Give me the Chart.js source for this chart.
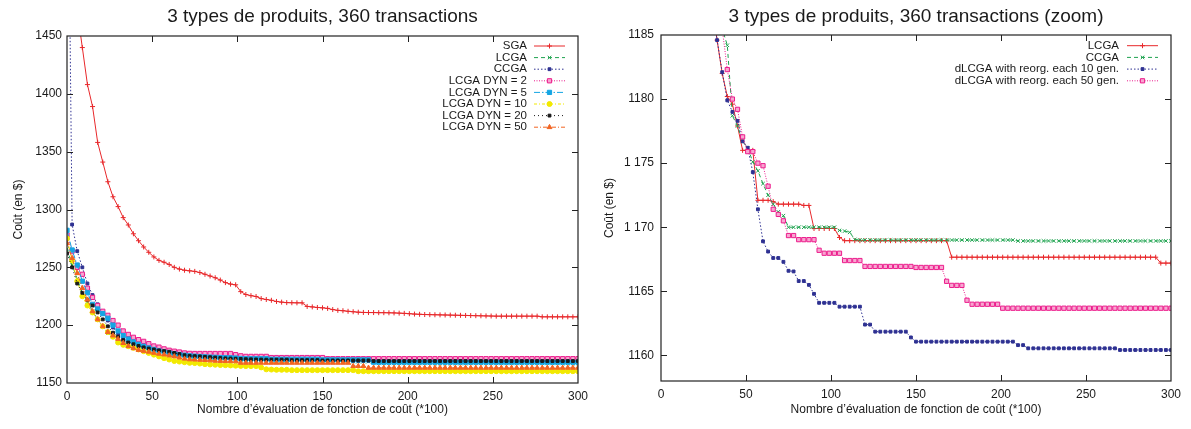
<!DOCTYPE html>
<html>
<head>
<meta charset="utf-8">
<script src="https://cdn.jsdelivr.net/npm/chart.js@4.4.1/dist/chart.umd.min.js"></script>
<style>
  html, body { margin: 0; padding: 0; background: #fff; }
  #wrap { position: relative; width: 1191px; height: 429px; }
  canvas { position: absolute; top: 0; }
  #left { left: 0; }
  #right { left: 595px; }
</style>
</head>
<body>
<div id="wrap">
  <canvas id="left" width="595" height="429"></canvas>
  <canvas id="right" width="596" height="429"></canvas>
</div>
<script>
// x = nombre d'évaluations (*100)
const evals = [
  0,3,6,9,12,15,18,21,24,27,
  30,33,36,39,42,45,48,51,54,57,
  60,63,66,69,72,75,78,81,84,87,
  90,93,96,99,102,105,108,111,114,117,
  120,123,126,129,132,135,138,141,144,147,
  150,153,156,159,162,165,168,171,174,177,
  180,183,186,189,192,195,198,201,204,207,
  210,213,216,219,222,225,228,231,234,237,
  240,243,246,249,252,255,258,261,264,267,
  270,273,276,279,282,285,288,291,294,297,
  300];

const xTicks = [0, 50, 100, 150, 200, 250, 300];
const yTicksLeft = [1150, 1200, 1250, 1300, 1350, 1400, 1450];
const yTicksRight = [1160, 1165, 1170, 1175, 1180, 1185];
const yLabelsRight = ['1160', '1165', '1 170', '1 175', '1180', '1185'];

// ---- left chart ----
const sga = [
  1560,1510,1472,1440,1408,1389,1358,1341,1324,1311,
  1302.5,1293,1286.6,1279,1273,1267.6,1263,1259,1256,1254.4,
  1252.5,1250,1248.5,1247.5,1247,1246.5,1245.5,1244,1242.5,1241,
  1239,1236.8,1235.5,1234.9,1229,1226.5,1225.5,1224.8,1223,1222.2,
  1221.5,1220.5,1219.9,1219.5,1219.4,1219.3,1219.3,1216.2,1215.8,1215.3,
  1215,1214.5,1213.5,1212.8,1212.5,1212,1211.6,1211.2,1211,1210.9,
  1210.9,1210.8,1210.8,1210.7,1210.6,1210.4,1210.2,1209.9,1209.6,1209.4,
  1209.2,1209.1,1209,1208.9,1208.8,1208.7,1208.6,1208.5,1208.4,1208.3,
  1208.2,1208.1,1208,1207.9,1207.8,1207.8,1207.8,1207.8,1207.8,1207.8,
  1207.8,1207.8,1207.8,1207.2,1207.2,1207.2,1207.2,1207.2,1207.2,1207.2,
  1207.2];
const lcga = [
  1266,1252,1240,1228,1220,1212,1205,1199,1193,1190,
  1188,1185.5,1183.5,1181,1179.5,1177.5,1176,1175,1174.5,1174,
  1173.5,1173,1172.5,1172,1171.8,1171.5,1171.3,1171.1,1170.9,1170.7,
  1170.5,1170.4,1170.3,1170.2,1169.8,1169.8,1169.8,1169.8,1169.8,1169.8,
  1169,1169,1169,1169,1169,1169,1169,1169,1169,1169,
  1169,1168.5,1168.5,1168.5,1168.5,1168.5,1168.5,1168.5,1168.5,1168.5,
  1168.5,1167,1167,1167,1167,1167,1167,1167,1167,1167,
  1167,1167,1167,1167,1167,1167,1167,1167,1167,1167,
  1167,1167,1167,1167,1167,1167,1167,1167,1167,1167,
  1167,1167,1167,1167,1167,1167,1167,1167,1167,1167,
  1167];
const ccga = [
  1700,1287,1264,1250,1236,1226,1218,1210,1204,1198,
  1193,1189,1186,1184,1182,1180.5,1179,1178,1177,1176.3,
  1175.6,1175,1174.4,1173.8,1173.3,1173,1172.6,1172.3,1172,1171.7,
  1171.4,1171.2,1171,1170.8,1170.6,1170.4,1170.2,1170,1170,1170,
  1169.6,1169.6,1169.6,1169.6,1169.6,1169.6,1169.6,1169.6,1169.6,1169.6,
  1169.2,1169.2,1169.2,1169.2,1169.2,1169.2,1169.2,1169.2,1169.2,1169.2,
  1168.5,1168.5,1168.5,1168.5,1168.5,1168.5,1168.5,1168.5,1168.5,1168.5,
  1168.5,1168.5,1168.5,1168.5,1168.5,1168.5,1168.5,1168.5,1168.5,1168.5,
  1168.5,1168.5,1168.5,1168.5,1168.5,1168.5,1168.5,1168.5,1168.5,1168.5,
  1168.5,1168.5,1168.5,1168.5,1168.5,1168.5,1168.5,1168.5,1168.5,1168.5,
  1168.5];
const dyn2 = [
  1278,1264,1250,1244,1232,1224,1217,1212,1208.5,1204,
  1200,1195,1192,1189.5,1187.5,1186,1184,1182,1181,1179.5,
  1178.3,1177.5,1176.8,1176,1175.6,1175.5,1175.5,1175.5,1175.5,1175.5,
  1175.5,1175.5,1175.5,1174.5,1173.5,1173,1173,1173,1173,1173,
  1172,1172,1172,1172,1172,1172,1172,1172,1172,1172,
  1172,1171,1171,1171,1171,1171,1171,1171,1171,1171,
  1171,1171,1171,1171,1171,1171,1171,1171,1171,1171,
  1171,1171,1171,1171,1171,1171,1171,1171,1171,1171,
  1171,1171,1171,1171,1171,1171,1171,1171,1171,1171,
  1171,1171,1171,1171,1171,1171,1171,1171,1171,1171,
  1171];
const dyn5 = [
  1282,1265,1252,1238,1228,1218,1214,1210,1206,1200,
  1195,1191,1188,1185.5,1183.5,1181.8,1180.3,1179,1177.8,1176.8,
  1176,1175.2,1174.6,1174,1173.5,1173.2,1172.9,1172.6,1172.4,1172.2,
  1172,1171.9,1171.8,1171.6,1171.2,1171,1171,1171,1171,1171,
  1170.5,1170.5,1170.5,1170.5,1170.5,1170.5,1170.5,1170.5,1170.5,1170.5,
  1170,1170,1170,1170,1170,1170,1170,1170,1170,1170,
  1168,1168,1168,1168,1168,1168,1168,1168,1168,1168,
  1168,1168,1168,1168,1168,1168,1168,1168,1168,1168,
  1168,1168,1168,1168,1168,1168,1168,1168,1168,1168,
  1168,1168,1168,1168,1168,1168,1168,1168,1168,1168,
  1168];
const dyn10 = [
  1275,1256,1238,1225,1217,1211,1205,1199,1194,1190,
  1185,1183,1181.8,1180.4,1179,1177.5,1176,1174.5,1173,1171.5,
  1170.3,1169,1168.5,1168,1167.4,1167.2,1166.8,1166.3,1166,1165.8,
  1165.5,1165.4,1165.2,1165,1164.8,1164.6,1164.6,1164.6,1163.5,1161.8,
  1161.6,1161.4,1161.4,1161.4,1161.1,1161.1,1161.1,1161.1,1161.1,1161.1,
  1161.1,1161.1,1161.1,1161.1,1161.1,1161.1,1161.1,1160.2,1160.2,1160.2,
  1160.2,1160.2,1160.2,1160.2,1160.2,1160.2,1160.2,1160.2,1160.2,1160.2,
  1160.2,1160.2,1160.2,1160.2,1160.2,1160.2,1160.2,1160.2,1160.2,1160.2,
  1160.2,1160.2,1160.2,1160.2,1160.2,1160.2,1160.2,1160.2,1160.2,1160.2,
  1160.2,1160.2,1160.2,1160.2,1160.2,1160.2,1160.2,1160.2,1160.2,1160.2,
  1160.2];
const dyn20 = [
  1262,1250,1236,1228,1222,1217,1211,1205,1199,1193.5,
  1190,1187,1185,1183.5,1182,1180.8,1179.8,1179,1178.2,1177.6,
  1177,1176,1175,1174,1173.5,1173.2,1173,1172.6,1172.3,1172,
  1171.6,1171.3,1171.2,1171,1170.8,1170.6,1170.5,1170.4,1170.3,1170.2,
  1170.2,1170.2,1170.2,1170.2,1169.8,1169.8,1169.8,1169.8,1169.8,1169.8,
  1169.5,1169.5,1169.5,1169.5,1169.5,1169.5,1169.5,1169.5,1169.5,1169.5,
  1169,1169,1169,1169,1169,1169,1169,1169,1169,1169,
  1169,1169,1169,1169,1169,1169,1169,1169,1169,1169,
  1169,1169,1169,1169,1169,1169,1169,1169,1169,1169,
  1169,1169,1169,1169,1169,1169,1169,1169,1169,1169,
  1169];
const dyn50 = [
  1271,1258,1245,1232,1222,1212,1205,1199,1194,1191,
  1188,1184.5,1181.8,1180,1178.5,1177.7,1177,1176,1175.2,1174.6,
  1173.8,1173,1172,1171,1170.4,1170.2,1170,1169.8,1169.5,1169.2,
  1169,1168.9,1168.8,1168.7,1167.4,1167.4,1167.4,1167.4,1167.4,1167.4,
  1167.4,1167.4,1167.4,1167.4,1167.4,1167.4,1167.4,1167.4,1167.4,1167.4,
  1167.4,1167.4,1167.4,1167.4,1167.4,1167.4,1164.6,1164.6,1164.6,1163.1,
  1163.1,1163.1,1163.1,1163.1,1163.1,1163.1,1163.1,1163.1,1163.1,1163.1,
  1163.1,1163.1,1163.1,1163.1,1163.1,1163.1,1163.1,1163.1,1163.1,1163.1,
  1163.1,1163.1,1163.1,1163.1,1163.1,1163.1,1163.1,1163.1,1163.1,1163.1,
  1163.1,1163.1,1163.1,1163.1,1163.1,1163.1,1163.1,1163.1,1163.1,1163.1,
  1163.1];

// ---- right chart (zoom) ----
const lcgaZ = [
  1275,1262,1250,1240,1230,1220,1212,1204,1197,1192,
  1187.5,1184.6,1182,1180.2,1179.6,1177.9,1176,1176,1176,1172.1,
  1172.1,1172.1,1172,1171.8,1171.8,1171.8,1171.8,1171.8,1171.7,1171.7,
  1169.9,1169.9,1169.9,1169.9,1169.9,1169.2,1168.95,1168.95,1168.95,1168.95,
  1168.95,1168.95,1168.95,1168.95,1168.95,1168.95,1168.95,1168.95,1168.95,1168.95,
  1168.95,1168.95,1168.95,1168.95,1168.95,1168.95,1168.95,1167.66,1167.66,1167.66,
  1167.66,1167.66,1167.66,1167.66,1167.66,1167.66,1167.66,1167.66,1167.66,1167.66,
  1167.66,1167.66,1167.66,1167.66,1167.66,1167.66,1167.66,1167.66,1167.66,1167.66,
  1167.66,1167.66,1167.66,1167.66,1167.66,1167.66,1167.66,1167.66,1167.66,1167.66,
  1167.66,1167.66,1167.66,1167.66,1167.66,1167.66,1167.66,1167.66,1167.2,1167.2,
  1167.2];
const ccgaZ = [
  1280,1268,1256,1245,1235,1226,1218,1210,1203,1197,
  1192,1189,1185.5,1184.2,1178.7,1177.9,1176.7,1176.2,1175.1,1174.4,
  1173.4,1172.5,1171.8,1171.2,1170.9,1170,1170,1170,1170,1170,
  1170,1170,1170,1170,1170,1169.75,1169.7,1169.6,1169.05,1169,
  1169,1169,1169,1169,1169,1169,1169,1169,1169,1169,
  1169,1169,1169,1169,1169,1169,1169,1169,1169,1169,
  1169,1169,1169,1169,1169,1169,1169,1169,1169,1169,
  1168.93,1168.93,1168.93,1168.93,1168.93,1168.93,1168.93,1168.93,1168.93,1168.93,
  1168.93,1168.93,1168.93,1168.93,1168.93,1168.93,1168.93,1168.93,1168.93,1168.93,
  1168.93,1168.93,1168.93,1168.93,1168.93,1168.93,1168.93,1168.93,1168.93,1168.93,
  1168.93];
const reorg10 = [
  1276,1263,1250,1238,1228,1219,1211,1203,1196,1190,
  1187,1184.6,1182.1,1179.9,1179,1178.3,1176.7,1176.2,1174.3,1171.4,
  1168.9,1168.1,1167.6,1167.6,1167.3,1166.6,1166.55,1165.8,1165.8,1165.5,
  1164.8,1164.1,1164.1,1164.1,1164.1,1163.8,1163.8,1163.8,1163.8,1163.8,
  1162.4,1162.4,1161.85,1161.85,1161.85,1161.85,1161.85,1161.85,1161.85,1161.4,
  1161.07,1161.07,1161.07,1161.07,1161.07,1161.07,1161.07,1161.07,1161.07,1161.07,
  1161.07,1161.07,1161.07,1161.07,1161.07,1161.07,1161.07,1161.07,1161.07,1161.07,
  1160.8,1160.8,1160.55,1160.55,1160.55,1160.55,1160.55,1160.55,1160.55,1160.55,
  1160.55,1160.55,1160.55,1160.55,1160.55,1160.55,1160.55,1160.55,1160.55,1160.55,
  1160.42,1160.42,1160.42,1160.42,1160.42,1160.42,1160.42,1160.42,1160.42,1160.42,
  1160.42];
const reorg50 = [
  1278,1266,1254,1243,1233,1224,1216,1208,1201,1195,
  1191,1188,1185.5,1182.3,1180,1179.2,1177.05,1175.9,1175.9,1175,
  1174.8,1173.2,1171.4,1171,1170.5,1169.35,1169.35,1169.03,1169.03,1169.03,
  1169.03,1168.2,1167.97,1167.97,1167.97,1167.97,1167.4,1167.4,1167.4,1167.4,
  1166.94,1166.94,1166.94,1166.94,1166.94,1166.94,1166.94,1166.94,1166.94,1166.94,
  1166.86,1166.86,1166.86,1166.86,1166.86,1166.86,1165.78,1165.46,1165.46,1165.46,
  1164.3,1163.99,1163.99,1163.99,1163.99,1163.99,1163.99,1163.68,1163.68,1163.68,
  1163.68,1163.68,1163.68,1163.68,1163.68,1163.68,1163.68,1163.68,1163.68,1163.68,
  1163.68,1163.68,1163.68,1163.68,1163.68,1163.68,1163.68,1163.68,1163.68,1163.68,
  1163.68,1163.68,1163.68,1163.68,1163.68,1163.68,1163.68,1163.68,1163.68,1163.68,
  1163.68];

const FONT = "'Liberation Sans', Arial, sans-serif";
const TXT = '#1a1a1a';

function serie(label, values, color, dash, style, radius, fill, i) {
  return {
    label: label,
    data: evals.map((x, k) => ({ x: x, y: values[k] })),
    borderColor: color,
    borderWidth: 1,
    borderDash: dash,
    pointStyle: style,
    pointRadius: radius,
    pointBorderWidth: 1,
    pointBorderColor: color,
    pointBackgroundColor: fill || color,
    order: -i,
    tension: 0
  };
}

// boîte et graduations intérieures façon gnuplot
const frame = {
  id: 'frame',
  afterDatasetsDraw(chart) {
    const { ctx, chartArea: a } = chart;
    const xs = chart.scales.x, ys = chart.scales.y;
    ctx.save();
    ctx.strokeStyle = '#222';
    ctx.lineWidth = 1.2;
    ctx.strokeRect(a.left, a.top, a.right - a.left, a.bottom - a.top);
    ctx.lineWidth = 1;
    ctx.beginPath();
    xs.ticks.forEach(t => {
      const p = Math.round(xs.getPixelForValue(t.value)) + 0.5;
      if (p > a.left + 2 && p < a.right - 2) {
        ctx.moveTo(p, a.bottom); ctx.lineTo(p, a.bottom - 6);
        ctx.moveTo(p, a.top); ctx.lineTo(p, a.top + 6);
      }
    });
    ys.ticks.forEach(t => {
      const p = Math.round(ys.getPixelForValue(t.value)) + 0.5;
      if (p > a.top + 2 && p < a.bottom - 2) {
        ctx.moveTo(a.left, p); ctx.lineTo(a.left + 6, p);
        ctx.moveTo(a.right, p); ctx.lineTo(a.right - 6, p);
      }
    });
    ctx.stroke();
    ctx.restore();
  }
};

// titre centré sur la zone de tracé
const plotTitle = {
  id: 'plotTitle',
  afterDraw(chart, args, o) {
    const { ctx, chartArea: a } = chart;
    ctx.save();
    ctx.font = '19px ' + FONT;
    ctx.fillStyle = TXT;
    ctx.textAlign = 'center';
    ctx.textBaseline = 'middle';
    ctx.fillText(o.text, (a.left + a.right) / 2, o.y);
    ctx.restore();
  }
};

// légende : texte aligné à droite, échantillon de ligne à droite
const gnuLegend = {
  id: 'gnuLegend',
  afterDraw(chart, args, o) {
    const ctx = chart.ctx;
    ctx.save();
    ctx.font = '11.5px ' + FONT;
    ctx.textAlign = 'right';
    ctx.textBaseline = 'middle';
    chart.data.datasets.forEach((ds, i) => {
      const y = o.top + i * o.row;
      ctx.fillStyle = TXT;
      ctx.fillText(ds.label, o.textRight, y);
      ctx.strokeStyle = ds.borderColor;
      ctx.lineWidth = ds.borderWidth;
      ctx.setLineDash(ds.borderDash);
      ctx.beginPath();
      ctx.moveTo(o.x0, y); ctx.lineTo(o.x1, y);
      ctx.stroke();
      ctx.setLineDash([]);
      ctx.fillStyle = ds.pointBackgroundColor;
      ctx.strokeStyle = ds.pointBorderColor;
      ctx.lineWidth = ds.pointBorderWidth;
      Chart.helpers.drawPoint(ctx, {
        pointStyle: ds.pointStyle, radius: ds.pointRadius,
        borderWidth: ds.pointBorderWidth, rotation: 0
      }, (o.x0 + o.x1) / 2, y);
    });
    ctx.restore();
  }
};

function options(title, yMin, yMax, yTicks, yLabels, yWidth, xHeight, padRight, padTop, yTitlePad, yTickPad, legend) {
  return {
    responsive: false,
    animation: false,
    layout: { padding: { left: 0, right: padRight, top: padTop, bottom: 0 } },
    plugins: {
      legend: { display: false },
      tooltip: { enabled: false },
      title: { display: false },
      plotTitle: { text: title, y: 17 },
      gnuLegend: legend
    },
    scales: {
      x: {
        type: 'linear', min: 0, max: 300,
        grid: { display: false, drawTicks: false },
        border: { display: false },
        afterBuildTicks: s => { s.ticks = xTicks.map(v => ({ value: v })); },
        afterFit: s => { s.height = xHeight; },
        ticks: { color: TXT, font: { family: FONT, size: 12 }, padding: 6, maxRotation: 0 },
        title: {
          display: true, text: 'Nombre d\u2019évaluation de fonction de coût (*100)',
          color: TXT, font: { family: FONT, size: 12 }, padding: { top: 0, bottom: 11.8 }
        }
      },
      y: {
        type: 'linear', min: yMin, max: yMax,
        grid: { display: false, drawTicks: false },
        border: { display: false },
        afterBuildTicks: s => { s.ticks = yTicks.map(v => ({ value: v })); },
        afterFit: s => { s.width = yWidth; },
        ticks: {
          color: TXT, font: { family: FONT, size: 12 }, padding: yTickPad,
          callback: (v, i) => yLabels[i]
        },
        title: {
          display: true, text: 'Coût (en $)',
          color: TXT, font: { family: FONT, size: 12 }, padding: { top: yTitlePad, bottom: 0 }
        }
      }
    }
  };
}

new Chart(document.getElementById('left'), {
  type: 'line',
  data: {
    datasets: [
      serie('SGA', sga, '#e8282b', [], 'cross', 2.5, null, 0),
      serie('LCGA', lcga, '#1ea34f', [4, 3], 'crossRot', 2.5, null, 1),
      serie('CCGA', ccga, '#2e3192', [1.5, 2], 'rect', 2, null, 2),
      serie('LCGA DYN = 2', dyn2, '#ec1c8c', [1, 1.5], 'rect', 3, '#f7a6d0', 3),
      serie('LCGA DYN = 5', dyn5, '#14a5e3', [6, 2, 1.5, 2], 'rect', 3, null, 4),
      serie('LCGA DYN = 10', dyn10, '#f2e900', [3, 2, 1, 2], 'circle', 2.5, null, 5),
      serie('LCGA DYN = 20', dyn20, '#1a1a1a', [1, 3], 'rect', 2, null, 6),
      serie('LCGA DYN = 50', dyn50, '#f26522', [4, 2, 1, 2], 'triangle', 2.8, null, 7)
    ]
  },
  options: options('3 types de produits, 360 transactions', 1150, 1450,
    yTicksLeft, yTicksLeft.map(String), 67, 46, 17, 36, 11.8, 5,
    { top: 46, row: 11.6, textRight: 527, x0: 534, x1: 565 }),
  plugins: [frame, plotTitle, gnuLegend]
});

new Chart(document.getElementById('right'), {
  type: 'line',
  data: {
    datasets: [
      serie('LCGA', lcgaZ, '#e8282b', [], 'cross', 2.5, null, 0),
      serie('CCGA', ccgaZ, '#1ea34f', [4, 3], 'crossRot', 2.5, null, 1),
      serie('dLCGA with reorg. each 10 gen.', reorg10, '#2e3192', [1.5, 2], 'rect', 2, null, 2),
      serie('dLCGA with reorg. each 50 gen.', reorg50, '#ec1c8c', [1, 1.5], 'rect', 3, '#f7a6d0', 3)
    ]
  },
  options: options('3 types de produits, 360 transactions (zoom)', 1158, 1185,
    yTicksRight, yLabelsRight, 66, 48, 20, 35, 7.8, 7,
    { top: 45.7, row: 11.7, textRight: 524, x0: 532, x1: 563 }),
  plugins: [frame, plotTitle, gnuLegend]
});
</script>
</body>
</html>
